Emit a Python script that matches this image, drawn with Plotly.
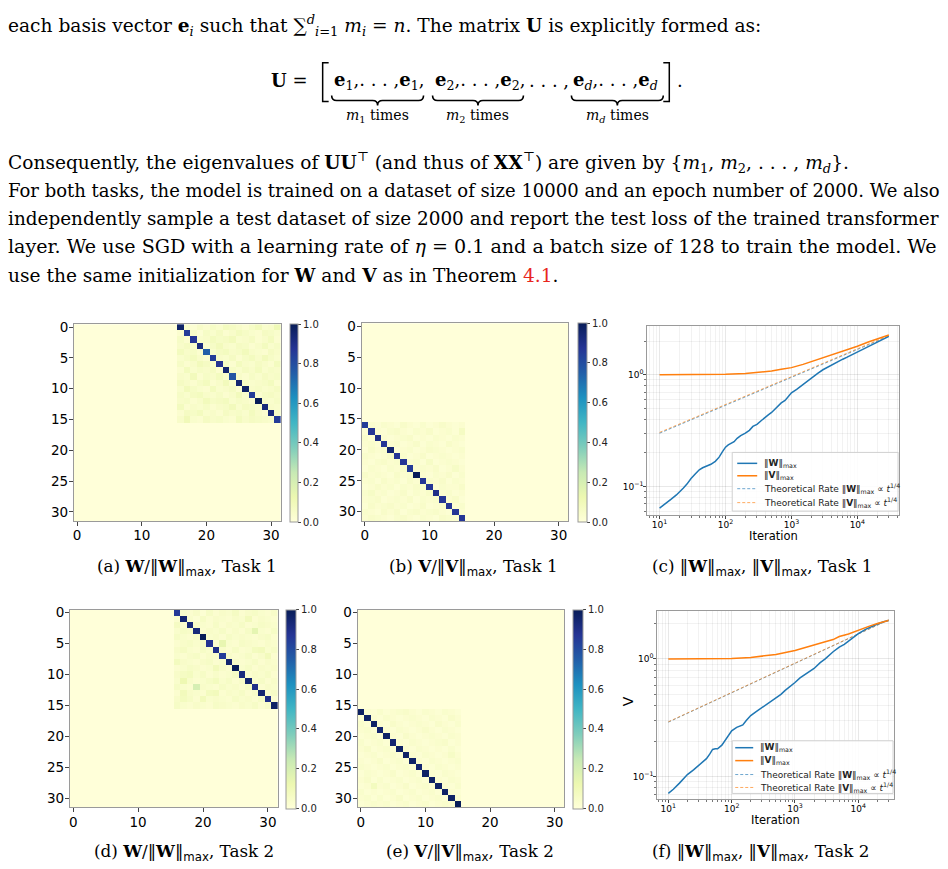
import plotly.graph_objects as go

FIG_W, FIG_H = 948, 869


def fx(x):
    return x / FIG_W


def fy(y):
    return 1 - y / FIG_H


# ------------------------------------------------------------------ data
HEAT_XTICKS = [0, 10, 20, 30]
HEAT_YTICKS = [0, 5, 10, 15, 20, 25, 30]
CBAR_TICKS = [0.0, 0.2, 0.4, 0.6, 0.8, 1.0]
MATRIX_SIZE = 32

# non-zero 16x16 blocks of the normalised matrices (values in hundredths)
W_task1_block = [
    [97, 4, 2, 5, 3, 6, 4, 8, 7, 5, 3, 6, 9, 4, 5, 11],
    [3, 85, 5, 2, 6, 4, 7, 3, 5, 8, 6, 4, 3, 7, 6, 4],
    [6, 3, 87, 4, 5, 8, 6, 7, 9, 4, 5, 7, 3, 5, 8, 3],
    [5, 7, 4, 92, 3, 6, 9, 5, 4, 7, 6, 3, 5, 8, 4, 6],
    [8, 5, 6, 3, 75, 4, 7, 8, 5, 6, 9, 5, 4, 3, 7, 5],
    [4, 6, 8, 5, 3, 85, 5, 4, 7, 3, 6, 8, 5, 9, 6, 4],
    [6, 3, 5, 9, 7, 4, 88, 6, 3, 8, 5, 4, 7, 5, 3, 8],
    [3, 8, 4, 6, 5, 7, 3, 95, 6, 4, 7, 5, 8, 4, 6, 5],
    [5, 4, 9, 3, 6, 5, 8, 4, 78, 5, 3, 6, 4, 7, 5, 6],
    [7, 5, 3, 6, 8, 3, 5, 9, 4, 95, 6, 4, 5, 6, 8, 3],
    [4, 9, 6, 4, 3, 8, 4, 5, 7, 3, 97, 5, 6, 4, 5, 7],
    [6, 4, 7, 8, 5, 4, 6, 3, 5, 9, 4, 85, 3, 6, 7, 5],
    [5, 6, 3, 5, 9, 6, 7, 8, 4, 6, 5, 3, 100, 5, 4, 6],
    [8, 3, 5, 4, 6, 3, 5, 6, 9, 4, 7, 6, 4, 93, 5, 4],
    [3, 7, 6, 8, 4, 5, 3, 7, 5, 6, 4, 8, 5, 3, 93, 6],
    [5, 10, 4, 3, 7, 5, 6, 4, 3, 8, 5, 7, 6, 5, 4, 85],
]
W_task1_origin = (0, 16)

V_task1_block = [
    [85, 3, 2, 4, 3, 2, 5, 3, 2, 4, 2, 3, 5, 3, 2, 3],
    [2, 87, 3, 2, 4, 5, 3, 2, 4, 3, 5, 2, 3, 4, 2, 7],
    [4, 2, 90, 3, 2, 3, 4, 5, 2, 3, 2, 4, 3, 2, 4, 3],
    [3, 4, 2, 87, 3, 4, 2, 3, 5, 2, 4, 3, 2, 5, 3, 2],
    [2, 5, 3, 4, 95, 2, 3, 4, 2, 3, 5, 4, 3, 2, 3, 4],
    [4, 3, 2, 3, 5, 87, 4, 2, 3, 5, 2, 3, 4, 3, 2, 3],
    [3, 2, 4, 5, 3, 4, 87, 3, 4, 2, 6, 2, 3, 4, 3, 2],
    [2, 4, 3, 2, 4, 3, 5, 85, 3, 4, 3, 5, 2, 3, 6, 3],
    [5, 3, 4, 3, 2, 5, 3, 4, 100, 3, 2, 4, 3, 5, 2, 4],
    [3, 4, 2, 5, 3, 4, 2, 5, 3, 87, 4, 3, 5, 2, 4, 3],
    [2, 3, 5, 3, 4, 2, 4, 3, 5, 4, 87, 2, 4, 3, 3, 5],
    [4, 6, 3, 4, 2, 3, 5, 2, 4, 3, 5, 90, 3, 4, 2, 3],
    [3, 4, 5, 2, 3, 4, 3, 5, 2, 4, 3, 4, 87, 3, 5, 2],
    [2, 5, 3, 4, 5, 3, 4, 2, 3, 5, 2, 3, 4, 87, 3, 4],
    [4, 3, 2, 5, 3, 5, 2, 4, 5, 3, 4, 5, 3, 2, 87, 3],
    [3, 5, 4, 3, 2, 4, 5, 3, 2, 4, 3, 2, 5, 4, 3, 87],
]
V_task1_origin = (16, 0)

W_task2_block = [
    [86, 4, 3, 5, 2, 6, 3, 5, 4, 7, 3, 5, 6, 4, 3, 5],
    [3, 95, 4, 2, 6, 3, 5, 4, 3, 5, 4, 9, 3, 5, 4, 3],
    [7, 3, 93, 5, 4, 3, 6, 3, 5, 4, 6, 3, 4, 6, 5, 4],
    [4, 6, 5, 93, 3, 5, 4, 6, 3, 5, 3, 6, 15, 4, 3, 6],
    [6, 4, 3, 5, 100, 4, 5, 3, 6, 4, 5, 4, 3, 5, 6, 3],
    [3, 5, 6, 4, 5, 88, 3, 14, 4, 3, 6, 5, 4, 3, 5, 4],
    [5, 7, 4, 3, 6, 4, 90, 5, 3, 6, 3, 4, 8, 9, 4, 6],
    [4, 3, 5, 6, 3, 5, 4, 85, 5, 3, 4, 6, 3, 5, 9, 3],
    [8, 5, 4, 3, 5, 6, 3, 4, 95, 5, 3, 4, 6, 3, 5, 4],
    [3, 4, 6, 5, 3, 4, 9, 5, 3, 100, 4, 6, 3, 5, 4, 5],
    [5, 7, 8, 4, 6, 3, 5, 3, 4, 6, 92, 3, 5, 4, 6, 3],
    [4, 12, 5, 3, 4, 6, 8, 4, 6, 3, 5, 95, 4, 6, 3, 5],
    [6, 4, 3, 20, 5, 4, 3, 6, 4, 5, 3, 6, 90, 3, 5, 4],
    [3, 9, 5, 4, 3, 8, 9, 3, 5, 4, 6, 3, 5, 95, 4, 6],
    [5, 8, 6, 3, 9, 4, 5, 4, 3, 6, 4, 5, 3, 6, 90, 3],
    [6, 4, 3, 5, 4, 3, 6, 5, 4, 3, 5, 4, 6, 3, 5, 97],
]
W_task2_origin = (0, 16)

V_task2_block = [
    [98, 3, 2, 4, 2, 3, 4, 5, 3, 2, 4, 3, 2, 4, 3, 2],
    [2, 97, 3, 2, 4, 3, 2, 3, 4, 3, 2, 4, 3, 2, 5, 3],
    [4, 2, 97, 3, 2, 5, 3, 2, 3, 4, 3, 2, 5, 3, 2, 4],
    [3, 4, 2, 95, 3, 2, 4, 3, 2, 3, 5, 3, 2, 4, 3, 2],
    [2, 3, 4, 2, 97, 3, 2, 5, 3, 2, 3, 4, 3, 2, 4, 3],
    [4, 2, 3, 4, 2, 95, 3, 2, 4, 3, 2, 3, 4, 5, 2, 3],
    [3, 5, 2, 3, 4, 2, 97, 3, 2, 4, 3, 2, 3, 2, 4, 2],
    [2, 3, 4, 2, 3, 4, 2, 97, 3, 2, 4, 3, 2, 3, 6, 3],
    [3, 2, 3, 5, 2, 3, 4, 2, 97, 3, 2, 4, 3, 2, 3, 4],
    [4, 3, 2, 3, 4, 2, 3, 4, 2, 95, 3, 2, 4, 3, 2, 3],
    [2, 4, 3, 2, 3, 5, 2, 3, 4, 2, 97, 3, 2, 4, 3, 2],
    [3, 5, 2, 4, 2, 3, 4, 2, 3, 4, 2, 97, 3, 2, 4, 3],
    [2, 3, 8, 3, 4, 2, 3, 5, 2, 3, 4, 2, 97, 3, 2, 4],
    [4, 2, 3, 2, 3, 4, 2, 3, 4, 2, 3, 4, 2, 97, 3, 2],
    [3, 4, 2, 4, 2, 3, 5, 2, 3, 4, 2, 3, 4, 2, 97, 3],
    [2, 3, 4, 3, 4, 2, 3, 4, 2, 3, 4, 2, 3, 4, 3, 100],
]
V_task2_origin = (16, 0)

# norms over training iterations, Task 1
iters_W_task1 = [10, 12, 15, 18, 20, 23, 26, 30, 35, 40, 45, 50, 60, 70, 80, 90,
                 100, 110, 120, 135, 150, 170, 200, 230, 260, 300, 350, 400, 450,
                 500, 600, 700, 800, 900, 1000, 1200, 1500, 2000, 2500, 3000, 4000,
                 5000, 6000, 7000, 8000, 10000, 13000, 16000, 20000, 25000, 30000]
normW_task1 = [0.064, 0.069, 0.077, 0.084, 0.089, 0.097, 0.105, 0.118, 0.130, 0.141,
               0.147, 0.151, 0.158, 0.168, 0.183, 0.205, 0.225, 0.236, 0.243, 0.252,
               0.270, 0.285, 0.300, 0.318, 0.345, 0.360, 0.390, 0.420, 0.440, 0.460,
               0.510, 0.560, 0.590, 0.640, 0.690, 0.740, 0.820, 0.940, 1.03, 1.11,
               1.22, 1.32, 1.38, 1.44, 1.50, 1.59, 1.72, 1.85, 1.98, 2.12, 2.21]
iters_V_task1 = [10, 30, 100, 200, 300, 500, 700, 1000, 1500, 2000, 3000, 5000,
                 7000, 10000, 15000, 20000, 30000]
normV_task1 = [1.00, 1.00, 1.01, 1.03, 1.05, 1.08, 1.12, 1.16, 1.24, 1.31, 1.43,
               1.58, 1.68, 1.80, 1.98, 2.10, 2.27]
rate_iters = [10, 30000]
rateW_task1 = [0.300, 2.22]
rateV_task1 = [0.305, 2.25]

# norms over training iterations, Task 2
iters_W_task2 = [10, 12, 15, 18, 20, 25, 30, 35, 40, 45, 50, 55, 60, 70, 80, 90,
                 100, 120, 150, 170, 200, 250, 300, 400, 500, 600, 700, 800, 1000,
                 1200, 1500, 2000, 2500, 3000, 4000, 5000, 6000, 7000, 8000, 10000,
                 13000, 16000, 20000, 25000, 30000]
normW_task2 = [0.072, 0.078, 0.088, 0.098, 0.104, 0.114, 0.124, 0.133, 0.142, 0.155,
               0.170, 0.172, 0.172, 0.185, 0.205, 0.225, 0.245, 0.262, 0.275, 0.300,
               0.330, 0.360, 0.385, 0.430, 0.470, 0.500, 0.540, 0.570, 0.630, 0.690,
               0.750, 0.830, 0.930, 1.00, 1.15, 1.26, 1.33, 1.42, 1.50, 1.64, 1.78,
               1.88, 1.98, 2.07, 2.12]
iters_V_task2 = [10, 30, 100, 200, 300, 500, 1000, 1500, 2000, 3000, 4000, 5000,
                 7000, 10000, 15000, 20000, 30000]
normV_task2 = [1.00, 1.00, 1.01, 1.03, 1.05, 1.09, 1.18, 1.25, 1.31, 1.40, 1.46,
               1.55, 1.63, 1.76, 1.90, 2.00, 2.12]
rateW_task2 = [0.290, 2.14]
rateV_task2 = [0.292, 2.15]

LOG_XTICKS = [10, 100, 1000, 10000]
LOG_XTEXT = ["10<sup>1</sup>", "10<sup>2</sup>", "10<sup>3</sup>", "10<sup>4</sup>"]
LOG_XMINOR = [m * 10 ** e for e in range(0, 5) for m in range(2, 10)]
LOG_YTICKS = [0.1, 1]
LOG_YTEXT = ["10<sup>\u22121</sup>", "10<sup>0</sup>"]
LOG_YMINOR = [m * 10.0 ** e for e in (-2, -1, 0) for m in range(2, 10)]

LEGEND_LABELS = [
    "\u2016<b>W</b>\u2016<sub>max</sub>",
    "\u2016<b>V</b>\u2016<sub>max</sub>",
    "Theoretical Rate \u2016<b>W</b>\u2016<sub>max</sub> \u221d <i>t</i><sup>1/4</sup>",
    "Theoretical Rate \u2016<b>V</b>\u2016<sub>max</sub> \u221d <i>t</i><sup>1/4</sup>",
]

# ------------------------------------------------------------------ style
BLUE = "#1f77b4"
ORANGE = "#ff7f0e"
BLUE_A = "rgba(31,119,180,0.65)"
ORANGE_A = "rgba(255,127,14,0.65)"
YLGNBU = [[0.0, "#ffffd9"], [0.125, "#edf8b1"], [0.25, "#c7e9b4"], [0.375, "#7fcdbb"],
          [0.5, "#41b6c4"], [0.625, "#1d91c0"], [0.75, "#225ea8"], [0.875, "#253494"],
          [1.0, "#081d58"]]
SERIF = "DejaVu Serif"
SANS = "DejaVu Sans"
FRAME = "#9a9a9a"


def standoff_ok(v):
    try:
        go.layout.XAxis(ticklabelstandoff=v)
        return {"ticklabelstandoff": v}
    except Exception:
        return {}


HEAT_STANDOFF = standoff_ok(-2)
LINE_STANDOFF = standoff_ok(-2)


def full_matrix(block, origin):
    r0, c0 = origin
    m = [[0.0] * MATRIX_SIZE for _ in range(MATRIX_SIZE)]
    for i, row in enumerate(block):
        for j, v in enumerate(row):
            m[r0 + i][c0 + j] = v / 100.0
    return m


def names(n):
    if n == 1:
        return "xaxis", "yaxis", "x", "y"
    return f"xaxis{n}", f"yaxis{n}", f"x{n}", f"y{n}"


fig = go.Figure()
layout = dict(width=FIG_W, height=FIG_H, margin=dict(l=0, r=0, t=0, b=0),
              paper_bgcolor="white", plot_bgcolor="white", showlegend=False)
shapes = []
annotations = []

# ------------------------------------------------------------------ heatmaps
heat_panels = [
    # n, block, origin, (left, right, top, bottom), colorbar (left, right)
    (1, W_task1_block, W_task1_origin, (73, 280, 321, 519), (289, 297)),
    (2, V_task1_block, V_task1_origin, (361, 568, 320, 519), (578, 587)),
    (4, W_task2_block, W_task2_origin, (69, 277, 608, 807), (285, 295)),
    (5, V_task2_block, V_task2_origin, (357, 564, 608, 807), (573, 583)),
]
for n, block, origin, (l, r, t, b), (cl, cr) in heat_panels:
    xa, ya, xr, yr = names(n)
    fig.add_trace(go.Heatmap(
        z=full_matrix(block, origin), xaxis=xr, yaxis=yr, zmin=0, zmax=1,
        colorscale=YLGNBU, hoverinfo="skip",
        colorbar=dict(x=fx(cl), xanchor="left", y=fy(t), yanchor="top",
                      len=b - t, lenmode="pixels", thickness=cr - cl,
                      thicknessmode="pixels", xpad=0, ypad=0, outlinewidth=1,
                      outlinecolor=FRAME, tickvals=CBAR_TICKS,
                      ticktext=[f"{v:.1f}" for v in CBAR_TICKS], ticks="outside",
                      ticklen=3, tickcolor="#444",
                      tickfont=dict(family=SANS, size=10, color="#222"))))
    common = dict(ticks="outside", ticklen=4, tickcolor="#444", showline=True,
                  mirror=True, linecolor=FRAME, linewidth=1, showgrid=False,
                  zeroline=False, tickfont=dict(family=SANS, size=13.5, color="black"),
                  **HEAT_STANDOFF)
    layout[xa] = dict(domain=[fx(l), fx(r)], range=[-0.5, MATRIX_SIZE - 0.5],
                      tickvals=HEAT_XTICKS, anchor=yr, **common)
    layout[ya] = dict(domain=[fy(b), fy(t)], range=[MATRIX_SIZE - 0.5, -0.5],
                      tickvals=HEAT_YTICKS, anchor=xr, **common)

# ------------------------------------------------------------------ line charts
line_panels = [
    (3, (647, 899, 323, 513), [0.814, 4.632], [-1.256, 0.436],
     (iters_W_task1, normW_task1), (iters_V_task1, normV_task1), rateW_task1, rateV_task1,
     (732, 898, 450, 509), [461, 473.5, 486.5, 500.5], (737, 757, 762)),
    (6, (657, 894, 610, 799), [0.826, 4.564], [-1.194, 0.403],
     (iters_W_task2, normW_task2), (iters_V_task2, normV_task2), rateW_task2, rateV_task2,
     (732, 893, 740, 793), [747, 760, 774, 787], (735, 753, 758)),
]
for (n, (l, r, t, b), xrng, yrng, wser, vser, rw, rv, lbox, lys, (lx0, lx1, ltx)) in line_panels:
    xa, ya, xr, yr = names(n)
    fig.add_trace(go.Scatter(x=rate_iters, y=rw, mode="lines", xaxis=xr, yaxis=yr,
                             line=dict(color=BLUE_A, width=1, dash="3px,2px"),
                             hoverinfo="skip"))
    fig.add_trace(go.Scatter(x=rate_iters, y=rv, mode="lines", xaxis=xr, yaxis=yr,
                             line=dict(color=ORANGE_A, width=1, dash="3px,2px"),
                             hoverinfo="skip"))
    fig.add_trace(go.Scatter(x=wser[0], y=wser[1], mode="lines", xaxis=xr, yaxis=yr,
                             line=dict(color=BLUE, width=1.5), hoverinfo="skip"))
    fig.add_trace(go.Scatter(x=vser[0], y=vser[1], mode="lines", xaxis=xr, yaxis=yr,
                             line=dict(color=ORANGE, width=1.5), hoverinfo="skip"))
    common = dict(type="log", ticks="outside", ticklen=3, tickcolor="#444",
                  showline=True, mirror=True, linecolor=FRAME, linewidth=1,
                  showgrid=True, gridcolor="rgba(0,0,0,0.09)", gridwidth=1,
                  zeroline=False, tickfont=dict(family=SANS, size=9, color="black"),
                  **LINE_STANDOFF)
    minor = dict(showgrid=True, gridcolor="rgba(0,0,0,0.05)", ticks="outside",
                 ticklen=2, tickcolor="#777")
    layout[xa] = dict(domain=[fx(l), fx(r)], range=xrng, tickvals=LOG_XTICKS,
                      ticktext=LOG_XTEXT, anchor=yr,
                      minor=dict(tickvals=LOG_XMINOR, **minor), **common)
    layout[ya] = dict(domain=[fy(b), fy(t)], range=yrng, tickvals=LOG_YTICKS,
                      ticktext=LOG_YTEXT, anchor=xr,
                      minor=dict(tickvals=LOG_YMINOR, **minor), **common)
    annotations.append(dict(x=fx((l + r) / 2), y=fy(b + 21), xref="paper", yref="paper",
                            text="Iteration", showarrow=False,
                            font=dict(family=SANS, size=11.5, color="black"),
                            xanchor="center", yanchor="middle"))
    # legend box
    bx0, bx1, by0, by1 = lbox
    shapes.append(dict(type="rect", xref="paper", yref="paper", x0=fx(bx0), x1=fx(bx1),
                       y0=fy(by1), y1=fy(by0), fillcolor="rgba(255,255,255,0.85)",
                       line=dict(color="#d0d0d0", width=1), layer="above"))
    styles = [dict(color=BLUE, width=1.5), dict(color=ORANGE, width=1.5),
              dict(color=BLUE_A, width=1, dash="3px,2px"),
              dict(color=ORANGE_A, width=1, dash="3px,2px")]
    for yy, st, lab in zip(lys, styles, LEGEND_LABELS):
        shapes.append(dict(type="line", xref="paper", yref="paper", x0=fx(lx0), x1=fx(lx1),
                           y0=fy(yy), y1=fy(yy), line=st, layer="above"))
        annotations.append(dict(x=fx(ltx), y=fy(yy), xref="paper", yref="paper", text=lab,
                                showarrow=False, xanchor="left", yanchor="middle",
                                font=dict(family=SANS, size=9, color="#222")))

annotations.append(dict(x=fx(628), y=fy(707), xref="paper", yref="paper", text="V",
                        showarrow=False, textangle=-90,
                        font=dict(family=SANS, size=14, color="black")))

# ------------------------------------------------------------------ captions
MAXSUB = "<sub><span style='font-family:DejaVu Sans'>max</span></sub>"
captions = [
    (186, 566, f"(a) <b>W</b>/\u2016<b>W</b>\u2016{MAXSUB}, Task 1"),
    (473, 566, f"(b) <b>V</b>/\u2016<b>V</b>\u2016{MAXSUB}, Task 1"),
    (762, 566, f"(c) \u2016<b>W</b>\u2016{MAXSUB}, \u2016<b>V</b>\u2016{MAXSUB}, Task 1"),
    (183, 852, f"(d) <b>W</b>/\u2016<b>W</b>\u2016{MAXSUB}, Task 2"),
    (469, 852, f"(e) <b>V</b>/\u2016<b>V</b>\u2016{MAXSUB}, Task 2"),
    (760, 852, f"(f) \u2016<b>W</b>\u2016{MAXSUB}, \u2016<b>V</b>\u2016{MAXSUB}, Task 2"),
]
for cx, cy, txt in captions:
    annotations.append(dict(x=fx(cx), y=fy(cy), xref="paper", yref="paper", text=txt,
                            showarrow=False, xanchor="center", yanchor="middle",
                            font=dict(family=SERIF, size=16.8, color="black")))

# ------------------------------------------------------------------ body text
body = [
    (21, 18.6, "each basis vector <b>e</b><sub><i>i</i></sub> such that "
               "\u2211<sup><i>d</i></sup><sub><i>i</i>=1</sub> <i>m</i><sub><i>i</i></sub> = <i>n</i>. "
               "The matrix <b>U</b> is explicitly formed as:"),
    (158, 18.6, "Consequently, the eigenvalues of <b>UU</b><sup>\u22a4</sup> (and thus of "
                "<b>XX</b><sup>\u22a4</sup>) are given by {<i>m</i><sub>1</sub>, "
                "<i>m</i><sub>2</sub>, . . . , <i>m</i><sub><i>d</i></sub>}."),
    (187, 18.0, "For both tasks, the model is trained on a dataset of size 10000 and an "
                "epoch number of 2000. We also"),
    (215, 18.4, "independently sample a test dataset of size 2000 and report the test loss "
                "of the trained transformer"),
    (243, 19.1, "layer. We use SGD with a learning rate of <i>\u03b7</i> = 0.1 and a batch "
                "size of 128 to train the model. We"),
    (272, 18.6, "use the same initialization for <b>W</b> and <b>V</b> as in Theorem "
                "<span style='color:#e8261e'>4.1</span>."),
]
for yy, sz, txt in body:
    annotations.append(dict(x=fx(5), y=fy(yy), xref="paper", yref="paper", text=txt,
                            showarrow=False, xanchor="left", yanchor="middle", align="left",
                            font=dict(family=SERIF, size=sz, color="black")))

# equation  U = [ e1,...,e1, e2,...,e2, ..., ed,...,ed ].
eq_parts = [
    (268, "<b>U</b> ="),
    (331, "<b>e</b><sub>1</sub>,. . . ,<b>e</b><sub>1</sub>,"),
    (432, "<b>e</b><sub>2</sub>,. . . ,<b>e</b><sub>2</sub>,"),
    (527, ". . . ,"),
    (571, "<b>e</b><sub><i>d</i></sub>,. . . ,<b>e</b><sub><i>d</i></sub>"),
    (675, "."),
]
for ex, txt in eq_parts:
    annotations.append(dict(x=fx(ex), y=fy(76), xref="paper", yref="paper", text=txt,
                            showarrow=False, xanchor="left", yanchor="middle",
                            font=dict(family=SERIF, size=18, color="black")))
braces = [(331, 423, "<i>m</i><sub>1</sub> times"),
          (432, 523, "<i>m</i><sub>2</sub> times"),
          (571, 663, "<i>m</i><sub><i>d</i></sub> times")]
for x1, x2, lab in braces:
    xm = (x1 + x2) / 2
    y0, ym, y1 = 91, 96, 101
    pts = (f"M {fx(x1)},{fy(y0)} Q {fx(x1)},{fy(ym)} {fx(x1 + 5)},{fy(ym)} "
           f"L {fx(xm - 5)},{fy(ym)} Q {fx(xm)},{fy(ym)} {fx(xm)},{fy(y1)} "
           f"Q {fx(xm)},{fy(ym)} {fx(xm + 5)},{fy(ym)} L {fx(x2 - 5)},{fy(ym)} "
           f"Q {fx(x2)},{fy(ym)} {fx(x2)},{fy(y0)}")
    shapes.append(dict(type="path", xref="paper", yref="paper", path=pts,
                       line=dict(color="black", width=1.6)))
    annotations.append(dict(x=fx(xm), y=fy(112), xref="paper", yref="paper", text=lab,
                            showarrow=False, xanchor="center", yanchor="middle",
                            font=dict(family=SERIF, size=14, color="black")))
# square brackets
for xo, xi in [(322, 328), (669, 663)]:
    pts = (f"M {fx(xi)},{fy(58)} L {fx(xo)},{fy(58)} L {fx(xo)},{fy(97)} "
           f"L {fx(xi)},{fy(97)}")
    shapes.append(dict(type="path", xref="paper", yref="paper", path=pts,
                       line=dict(color="black", width=1.5)))

layout["shapes"] = shapes
layout["annotations"] = annotations
fig.update_layout(**layout)
fig.write_html("out.html")
